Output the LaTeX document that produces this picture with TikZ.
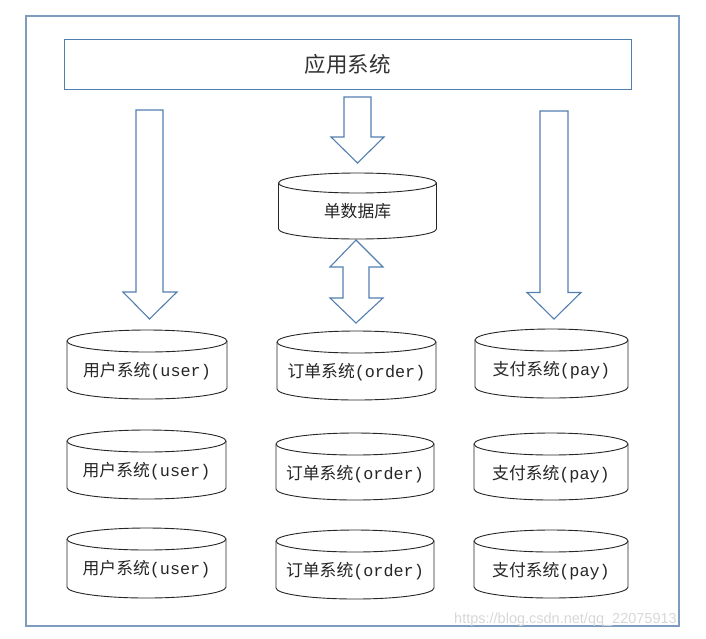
\documentclass[tikz,border=0pt]{standalone}
\usepackage{fontspec}
\setmainfont{Liberation Sans}
\setmonofont{Liberation Mono}
\newfontfamily\cjk{Noto Sans CJK SC}
\definecolor{frameblue}{RGB}{126,156,192}
\definecolor{boxblue}{RGB}{82,126,176}
\definecolor{wmgray}{RGB}{215,215,215}
\tikzset{
  blockarrow/.style={draw=boxblue,line width=1.1pt,fill=white,line join=miter},
  cylline/.style={draw=black!85,line width=0.9pt,fill=white},
  cyltext/.style={font=\cjk\fontsize{16.8}{18}\selectfont,inner sep=0pt,text=black!85},
}
% \mycyl{name}{x1}{x2}{ytop}{ybot}{text}
\newcommand{\mycyl}[6]{%
  \pgfmathsetmacro{\cx}{(#2+#3)/2}%
  \pgfmathsetmacro{\rx}{(#3-#2)/2}%
  \draw[cylline] (#2,#4+11) -- (#2,#5-11)
     arc[start angle=180,end angle=360,x radius=\rx pt,y radius=11pt]
     -- (#3,#4+11)
     arc[start angle=0,end angle=180,x radius=\rx pt,y radius=11pt] -- cycle;
  \draw[cylline,fill=none] (#2,#4+11)
     arc[start angle=180,end angle=360,x radius=\rx pt,y radius=11pt];
  \node[cyltext] (#1) at (\cx,#4+41) {#6};%
}
\begin{document}
\begin{tikzpicture}[x=1pt,y=-1pt]
\useasboundingbox (0,0) rectangle (706,638);
% outer frame
\draw[draw=frameblue,line width=1.2pt] (26,16) rectangle (679,626);
% application box
\node[draw=boxblue,line width=1pt,minimum width=567pt,minimum height=50pt,inner sep=0pt,
      font=\cjk\fontsize{21.5}{24}\selectfont,text=black!80] (app) at (347.5,64) {应用系统};
% block arrows
\draw[blockarrow] (136,110) -- (163,110) -- (163,292) -- (177,292) -- (149.5,319)
   -- (123,292) -- (136,292) -- cycle;
\draw[blockarrow] (344,97) -- (371,97) -- (371,137) -- (384,137) -- (357.5,163)
   -- (331,137) -- (344,137) -- cycle;
\draw[blockarrow] (540,111) -- (568,111) -- (568,292.5) -- (581,292.5) -- (554,319)
   -- (527,292.5) -- (540,292.5) -- cycle;
\draw[blockarrow] (356,240) -- (383,267) -- (369,267) -- (369,298) -- (383,298)
   -- (356,323) -- (330,298) -- (343,298) -- (343,267) -- (330,267) -- cycle;
% single database
\draw[cylline] (278.5,183) -- (278.5,229)
   arc[start angle=180,end angle=360,x radius=79pt,y radius=10pt]
   -- (436.5,183) arc[start angle=0,end angle=180,x radius=79pt,y radius=10pt] -- cycle;
\draw[cylline,fill=none] (278.5,183) arc[start angle=180,end angle=360,x radius=79pt,y radius=10pt];
\node[cyltext] (db) at (357.5,211) {单数据库};
% system cylinders
\mycyl{u1}{67}{227}{330}{399}{用户系统\ttfamily(user)}
\mycyl{u2}{67}{226}{430}{499}{用户系统\ttfamily(user)}
\mycyl{u3}{67}{226}{528}{598}{用户系统\ttfamily(user)}
\mycyl{o1}{277}{436}{331}{400}{订单系统\ttfamily(order)}
\mycyl{o2}{276}{434}{433}{500}{订单系统\ttfamily(order)}
\mycyl{o3}{276}{434}{530}{599}{订单系统\ttfamily(order)}
\mycyl{p1}{475}{628}{329}{398}{支付系统\ttfamily(pay)}
\mycyl{p2}{474}{628}{433}{500}{支付系统\ttfamily(pay)}
\mycyl{p3}{474}{628}{530}{598}{支付系统\ttfamily(pay)}
% watermark
\node[font=\fontsize{14.5}{16}\selectfont,text=wmgray,inner sep=0pt,anchor=west] (wm) at (454,620) {https://blog.csdn.net/qq\_22075913};
\end{tikzpicture}
\end{document}
